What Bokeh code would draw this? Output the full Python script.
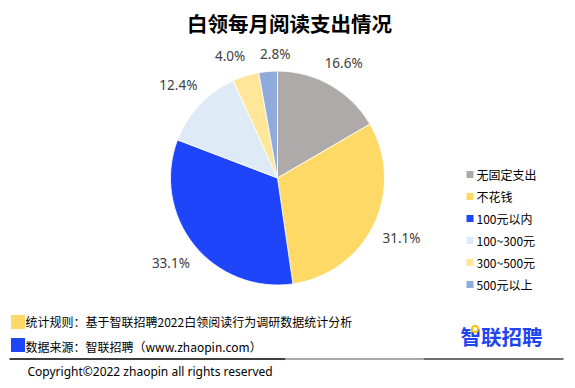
import numpy as np
from bokeh.plotting import figure
from bokeh.models import Range1d, ColumnDataSource
from bokeh.core.properties import value
from bokeh.embed import file_html
from bokeh.resources import INLINE

# ---- data ----
categories = ["无固定支出", "不花钱", "100元以内", "100~300元", "300~500元", "500元以上"]
shares = [16.6, 31.1, 33.1, 12.4, 4.0, 2.8]
colors = ["#AEAAAA", "#FFD966", "#1F45FA", "#DEEBF7", "#FFE699", "#8FAADC"]
title = "白领每月阅读支出情况"
note_rule = "统计规则：基于智联招聘2022白领阅读行为调研数据统计分析"
note_source = "数据来源：智联招聘（www.zhaopin.com）"
copyright_text = "Copyright©2022 zhaopin all rights reserved"
logo_text = "智联招聘"

W, H = 575, 388
CJK = value("Noto Sans CJK SC")
LAT = value("Noto Sans")

p = figure(width=W, height=H, output_backend="svg", toolbar_location=None,
           x_range=Range1d(0, W), y_range=Range1d(0, H), min_border=0)
p.axis.visible = False
p.grid.visible = False
p.outline_line_color = None
p.background_fill_color = "white"

def Y(py):
    return H - py

# ---- pie ----
cx, cy, r = 277.0, Y(177.5), 107.0
vals = np.array(shares, dtype=float)
frac = vals / vals.sum()
cum = np.cumsum(frac)
start = np.pi / 2 - (cum - frac) * 2 * np.pi
end = np.pi / 2 - cum * 2 * np.pi
src = ColumnDataSource(dict(start=start, end=end, color=colors))
p.wedge(x=cx, y=cy, radius=r, start_angle="start", end_angle="end",
        direction="clock", fill_color="color", line_color="white",
        line_width=0.8, source=src)

# labels placed outside, with simple collision avoidance
lw, lh = 39.0, 14.0
ang = (cum - frac / 2) * 360.0  # clockwise from top, degrees

def place(a_deg):
    t = np.deg2rad(90.0 - a_deg)
    dx, dy = np.cos(t), np.sin(t)
    support = np.abs(dx) * lw / 2 + np.abs(dy) * lh / 2
    dist = r + 10 + support
    return cx + dx * dist, cy + dy * dist

n = len(shares)
for _ in range(400):
    moved = False
    lx, ly = place(ang)
    for i in range(n):
        j = (i + 1) % n
        if abs(lx[i] - lx[j]) < lw + 6 and abs(ly[i] - ly[j]) < lh + 2:
            ang[i] -= 0.25
            ang[j] += 0.25
            moved = True
    if not moved:
        break
lx, ly = place(ang)
labels = [f"{v:.1f}%" for v in shares]
p.text(x=lx, y=ly, text=labels, text_font=LAT, text_font_size="13.5px",
       text_color="#404040", text_align="center", text_baseline="middle")

# ---- title ----
p.text(x=[289], y=[Y(22)], text=[title], text_font=CJK, text_font_size="20.5px",
       text_font_style="bold", text_color="#000000",
       text_align="center", text_baseline="middle")

# ---- legend ----
idx = np.arange(len(categories))
leg_y = Y(174) - idx * 22
p.rect(x=469.5, y=leg_y, width=7, height=7, fill_color=colors, line_color=None)
p.text(x=476, y=leg_y, text=categories, text_font=CJK, text_font_size="12px",
       text_color="#000000", text_align="left", text_baseline="middle")

# ---- notes ----
p.rect(x=[17.5, 17.5], y=[Y(321.5), Y(344.5)], width=14, height=14,
       fill_color=[colors[1], colors[2]], line_color=None)
p.text(x=[25, 25], y=[Y(320.5), Y(346)], text=[note_rule, note_source],
       text_font=CJK, text_font_size="12px", text_color="#000000",
       text_align="left", text_baseline="middle")

# ---- separator line ----
p.line(x=[9, 285], y=[Y(358.5), Y(358.5)], line_color="#000000", line_width=1.5)
p.line(x=[285, 423], y=[Y(358.5), Y(358.5)], line_color="#8C8C8C", line_width=1.5)
p.line(x=[423, 563], y=[Y(358.5), Y(358.5)], line_color="#404040", line_width=1.5)

# ---- copyright ----
p.text(x=[27], y=[Y(371)], text=[copyright_text], text_font=LAT,
       text_font_size="12px", text_color="#000000", text_align="left",
       text_baseline="middle")

# ---- logo ----
p.text(x=[460], y=[Y(335)], text=[logo_text], text_font=CJK,
       text_font_size="20.5px", text_font_style="bold", text_color="#1F45F0",
       text_align="left", text_baseline="middle")
p.scatter(x=[474.5], y=[Y(328.5)], size=6, marker="circle",
          fill_color="white", line_color="#FFC000", line_width=1.8)

open("out.html", "w").write(file_html(p, INLINE))
